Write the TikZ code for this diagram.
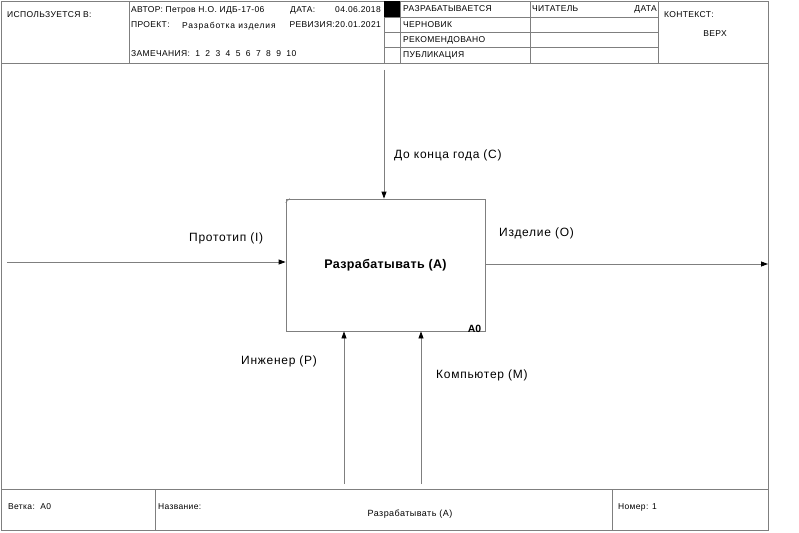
\documentclass[tikz,border=0pt]{standalone}
\usepackage{fontspec}
\setmainfont{Liberation Sans}
\usetikzlibrary{arrows.meta}
\definecolor{linegray}{HTML}{7F7F7F}
\tikzset{
  rule/.style={draw=linegray, line width=0.8pt},
  hdr/.style={font=\fontsize{8.5}{9}\selectfont\addfontfeatures{LetterSpace=4}, anchor=west, inner sep=0pt},
  hdrr/.style={font=\fontsize{8.5}{9}\selectfont\addfontfeatures{LetterSpace=4}, anchor=east, inner sep=0pt},
  lbl/.style={font=\fontsize{12}{14}\selectfont\addfontfeatures{LetterSpace=6}, anchor=west, inner sep=0pt},
  flow/.style={draw=linegray, line width=0.8pt, -{Triangle[length=7pt,width=5pt,color=black]}},
  actbox/.style={draw=linegray, line width=0.8pt, inner sep=0pt, minimum width=199pt, minimum height=132pt, font=\bfseries\fontsize{12.5}{14}\selectfont\addfontfeatures{LetterSpace=3}}
}
\begin{document}
\begin{tikzpicture}[x=1pt,y=-1pt]
\useasboundingbox (0,0) rectangle (799,532);
% outer frame
\draw[rule] (1,1) rectangle (768,530);
% header
\draw[rule] (1,63) -- (768,63);
\draw[rule] (129,1) -- (129,63);
\draw[rule] (384,1) -- (384,63);
\draw[rule] (400,1) -- (400,63);
\draw[rule] (530,1) -- (530,63);
\draw[rule] (658,1) -- (658,63);
\draw[rule] (384,17) -- (658,17);
\draw[rule] (384,32) -- (658,32);
\draw[rule] (384,47) -- (658,47);
\fill[black] (384,1) rectangle (400,17);
% footer
\draw[rule] (1,489) -- (768,489);
\draw[rule] (155,489) -- (155,530);
\draw[rule] (612,489) -- (612,530);
% header texts
\node[hdr] (used) at (7,15) {ИСПОЛЬЗУЕТСЯ В:};
\node[hdr] (author) at (131,10) {АВТОР: Петров Н.О. ИДБ-17-06};
\node[hdr] (datel) at (290,10) {ДАТА:};
\node[hdrr] (datev) at (381,10) {04.06.2018};
\node[hdr] (proj) at (131,25) {ПРОЕКТ:};
\node[hdr, font=\fontsize{8.5}{9}\selectfont\addfontfeatures{LetterSpace=10}] (projv) at (182,26.5) {Разработка изделия};
\node[hdrr] (rev) at (381,25) {РЕВИЗИЯ:20.01.2021};
\node[hdr] (notes) at (131,54) {ЗАМЕЧАНИЯ:\ \ 1\ \ 2\ \ 3\ \ 4\ \ 5\ \ 6\ \ 7\ \ 8\ \ 9\ \ 10};
\node[hdr] (s1) at (403,9) {РАЗРАБАТЫВАЕТСЯ};
\node[hdr] (s2) at (403,25) {ЧЕРНОВИК};
\node[hdr] (s3) at (403,40.5) {РЕКОМЕНДОВАНО};
\node[hdr] (s4) at (403,55.5) {ПУБЛИКАЦИЯ};
\node[hdr] (reader) at (532,9) {ЧИТАТЕЛЬ};
\node[hdrr] (rdate) at (657,9) {ДАТА};
\node[hdr] (ctx) at (664,15) {КОНТЕКСТ:};
\node[font=\fontsize{8.5}{9}\selectfont\addfontfeatures{LetterSpace=4}, inner sep=0pt] (top) at (715,34) {ВЕРХ};
% footer texts
\node[hdr] (node) at (8,507) {Ветка:\ \ A0};
\node[hdr] (title) at (158,507) {Название:};
\node[font=\fontsize{9}{10}\selectfont\addfontfeatures{LetterSpace=5}, inner sep=0pt] (titlev) at (410,514) {Разрабатывать (А)};
\node[hdr] (num) at (618,507) {Номер: 1};
% activity
\node[actbox] (A0) at (385.5,265) {Разрабатывать (А)};
\draw[linegray, line width=0.6pt] ([yshift=-4pt]A0.north west) -- ([xshift=4pt]A0.north west);
\node[anchor=south east, inner sep=0pt, font=\bfseries\fontsize{10.5}{11}\selectfont] (A0num) at ([xshift=-4pt,yshift=-1.5pt]A0.south east) {A0};
% arrows
\coordinate (ctl) at (384,70);
\coordinate (inp) at (7,262);
\coordinate (out) at (768,264);
\coordinate (mech1) at (344,484);
\coordinate (mech2) at (421,484);
\draw[flow] (ctl) -- (ctl |- A0.north);
\draw[flow] (inp) -- (inp -| A0.west);
\draw[flow] (A0.east |- out) -- (out);
\draw[flow] (mech1) -- (mech1 |- A0.south);
\draw[flow] (mech2) -- (mech2 |- A0.south);
% arrow labels
\node[lbl] (lctl) at (394,155) {До конца года (С)};
\node[lbl] (linp) at (189,238) {Прототип (I)};
\node[lbl] (lout) at (499,233) {Изделие (О)};
\node[lbl] (lm1) at (241,361) {Инженер (Р)};
\node[lbl] (lm2) at (436,375) {Компьютер (М)};
\end{tikzpicture}
\end{document}
